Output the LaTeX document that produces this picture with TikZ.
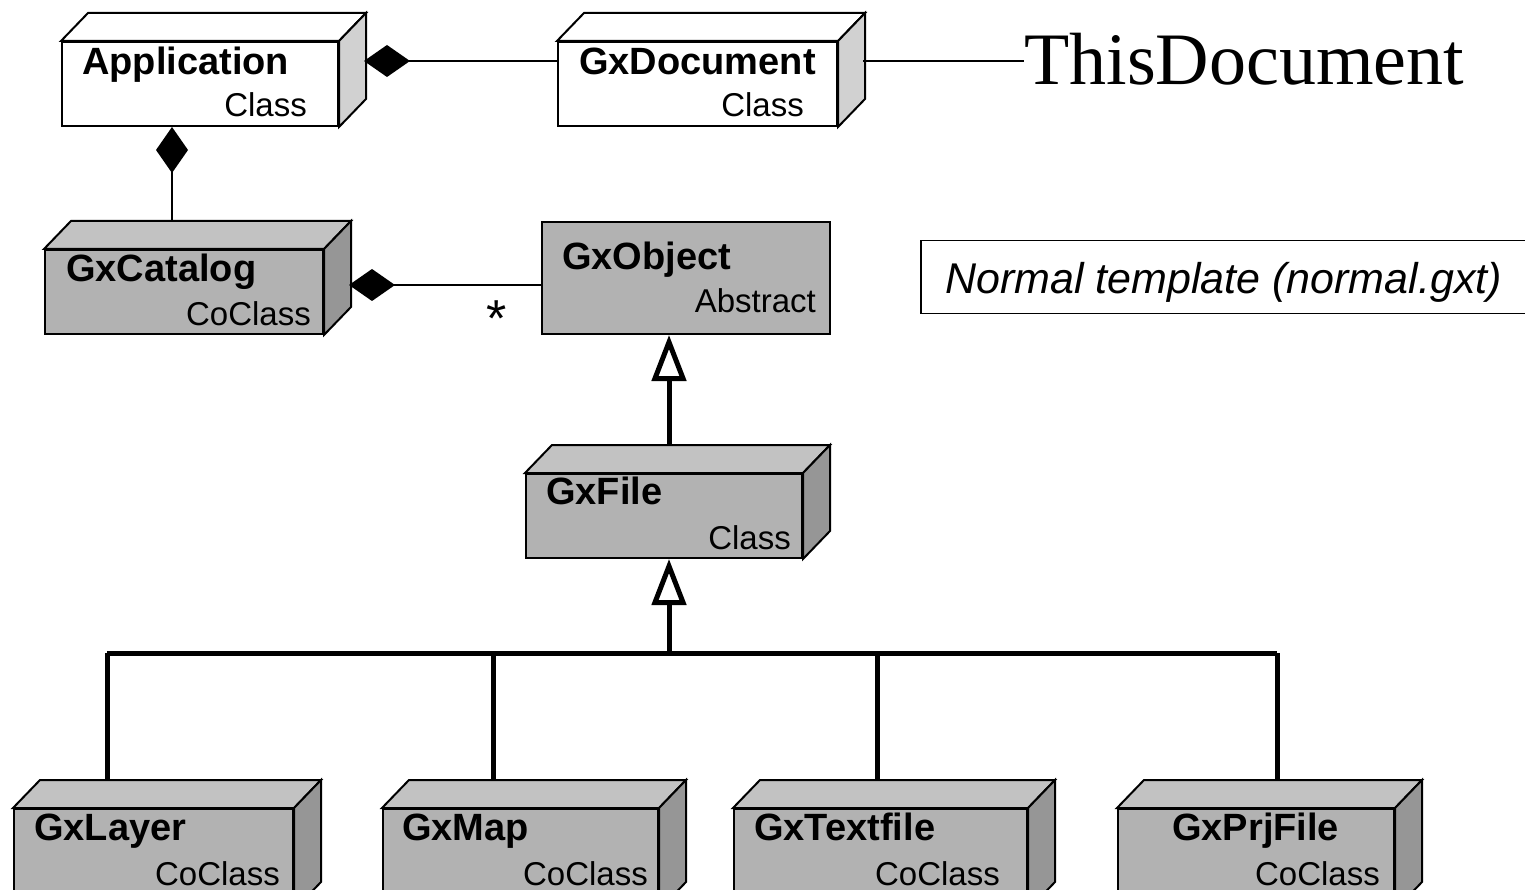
\documentclass[tikz,border=0pt]{standalone}
\usepackage{fontspec}
\setmainfont{Liberation Sans}
\newfontfamily\serifface{Liberation Serif}
\usetikzlibrary{arrows.meta,calc}

\definecolor{frontgray}{gray}{0.70}
\definecolor{topgray}{gray}{0.76}
\definecolor{sidegray}{gray}{0.59}
\definecolor{sidelight}{gray}{0.82}

\tikzset{
  outline/.style={draw=black, line width=2pt, line join=miter},
  face/.style={outline, rectangle, inner sep=0pt, anchor=north west},
  whiteface/.style={face, fill=white},
  grayface/.style={face, fill=frontgray},
  nametext/.style={font=\fontsize{38}{40}\selectfont\bfseries, anchor=base west, inner sep=0pt},
  kindtext/.style={font=\fontsize{33}{36}\selectfont, anchor=base east, inner sep=0pt},
  assoc/.style={line width=2pt},
  owns/.style={assoc, {Diamond[length=46pt,width=32pt]}-},
  inherit/.style={line width=5pt, -{Triangle[open,length=46pt,width=34pt,fill=white]}},
  busline/.style={line width=5pt},
}

% top and side faces of a 3D class box; #1 node, #2 top fill, #3 side fill;
% also names the back top edge as (#1-back)
\newcommand\boxfaces[3]{%
  \filldraw[outline, fill=#2] (#1.north west) -- ++(27pt,28pt)
    -- ($(#1.north east)+(27pt,28pt)$) -- (#1.north east) -- cycle;
  \filldraw[outline, fill=#3] (#1.north east) -- ++(27pt,28pt)
    -- ($(#1.south east)+(27pt,28pt)$) -- (#1.south east) -- cycle;
  \coordinate (#1-back) at ($(#1.north)+(27pt,28pt)$);
}

\begin{document}
\begin{tikzpicture}[x=1pt, y=-1pt]
\useasboundingbox (0,0) rectangle (1525,890);
\clip (0,0) rectangle (1525,890);

% ---- class boxes (front faces) ----
\node[whiteface, minimum width=276pt, minimum height=84pt] (app) at (61,41) {};
\boxfaces{app}{white}{sidelight}
\node[whiteface, minimum width=279pt, minimum height=84pt] (doc) at (557,41) {};
\boxfaces{doc}{white}{sidelight}
\node[grayface, minimum width=278pt, minimum height=84pt] (catalog) at (44,249) {};
\boxfaces{catalog}{topgray}{sidegray}
\node[grayface, minimum width=288pt, minimum height=112pt] (object) at (541,221) {};
\node[grayface, minimum width=276pt, minimum height=84pt] (file) at (525,473) {};
\boxfaces{file}{topgray}{sidegray}
\node[grayface, minimum width=279pt, minimum height=100pt] (layer) at (13,808) {};
\boxfaces{layer}{topgray}{sidegray}
\node[grayface, minimum width=275pt, minimum height=100pt] (map) at (382,808) {};
\boxfaces{map}{topgray}{sidegray}
\node[grayface, minimum width=293pt, minimum height=100pt] (textfile) at (733,808) {};
\boxfaces{textfile}{topgray}{sidegray}
\node[grayface, minimum width=276pt, minimum height=100pt] (prj) at (1117,808) {};
\boxfaces{prj}{topgray}{sidegray}

% ---- box labels ----
\node[nametext] (app-name) at (82,75) {Application};
\node[kindtext] (app-kind) at (307,117) {Class};
\node[nametext] (doc-name) at (579,75) {GxDocument};
\node[kindtext] (doc-kind) at (804,117) {Class};
\node[nametext] (catalog-name) at (66,282) {GxCatalog};
\node[kindtext] (catalog-kind) at (311,326) {CoClass};
\node[nametext] (object-name) at (562,270) {GxObject};
\node[kindtext] (object-kind) at (816,313) {Abstract};
\node[nametext] (file-name) at (546,504) {GxFile};
\node[kindtext] (file-kind) at (791,549) {Class};
\node[nametext] (layer-name) at (34,840) {GxLayer};
\node[kindtext] (layer-kind) at (280,885) {CoClass};
\node[nametext] (map-name) at (402,840) {GxMap};
\node[kindtext] (map-kind) at (648,885) {CoClass};
\node[nametext] (textfile-name) at (754,840) {GxTextfile};
\node[kindtext] (textfile-kind) at (1000,885) {CoClass};
\node[nametext] (prj-name) at (1172,840) {GxPrjFile};
\node[kindtext] (prj-kind) at (1380,885) {CoClass};

% ---- free text ----
\node[font=\serifface\fontsize{74}{80}\selectfont, anchor=base west, inner sep=0pt]
  (thisdoc) at (1024,85) {ThisDocument};
\node[draw, line width=1.5pt, anchor=north west, minimum width=620pt, minimum height=73pt,
  inner sep=0pt] (template) at (920,240) {};
\node[font=\fontsize{43}{46}\selectfont\itshape, anchor=base west, inner sep=0pt]
  (template-text) at (945,294) {Normal template (normal.gxt)};
\node[font=\fontsize{52}{54}\selectfont, anchor=base, inner sep=0pt] (mult) at (497,337) {*};

% ---- connection points ----
\coordinate (app-side) at (364,61);
\coordinate (doc-side) at (863,61);
\coordinate (catalog-top) at (172,220);
\coordinate (catalog-side) at (349,285);
\coordinate (file-top) at (669,445);
\coordinate (bus) at (669,653);
\coordinate (bus-layer) at (107,653);
\coordinate (bus-map) at (493,653);
\coordinate (bus-textfile) at (877,653);
\coordinate (bus-prj) at (1277,653);

% ---- associations ----
\draw[owns] (app-side) -- (app-side -| doc.west);
\draw[assoc] (doc-side) -- (doc-side -| thisdoc.west);
\draw[owns] (app.south -| catalog-top) -- (catalog-top);
\draw[owns] (catalog-side) -- (catalog-side -| object.west);

% ---- generalisations ----
\draw[inherit] (file-top) -- (object.south -| file-top);
\draw[inherit] (bus) -- (file.south -| bus);
\draw[busline] (bus-layer) -- (bus-prj);
\draw[busline] (bus-layer) -- (bus-layer |- layer-back);
\draw[busline] (bus-map) -- (bus-map |- map-back);
\draw[busline] (bus-textfile) -- (bus-textfile |- textfile-back);
\draw[busline] (bus-prj) -- (bus-prj |- prj-back);
\end{tikzpicture}
\end{document}
